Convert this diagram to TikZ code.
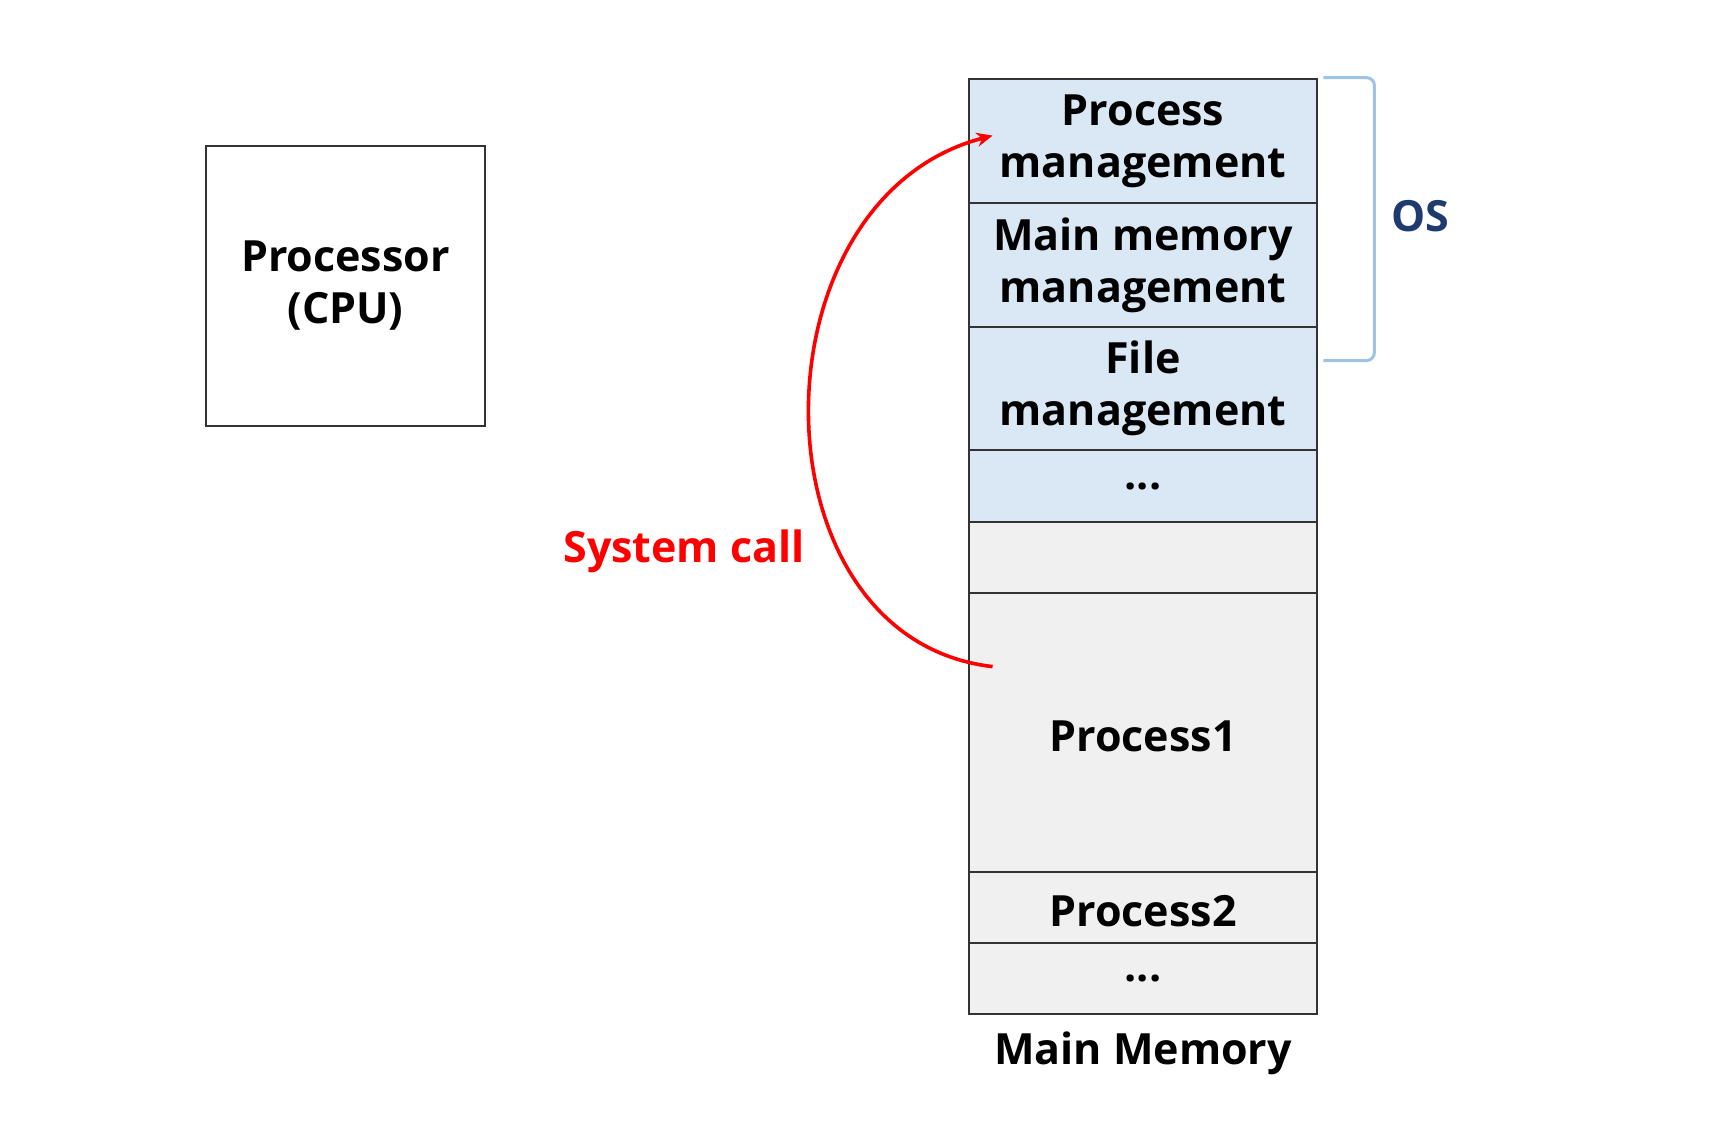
\documentclass[tikz,border=0pt]{standalone}
\usepackage{fontspec}
\setmainfont{Open Sans}[BoldFont={Open Sans Bold}]
\usetikzlibrary{arrows.meta}
\definecolor{osblue}{HTML}{DAE8F5}
\definecolor{usergray}{HTML}{F0F0F0}
\definecolor{boxline}{HTML}{333333}
\definecolor{bracecolor}{HTML}{9DC3E6}
\definecolor{osnavy}{HTML}{1F3A6E}

\begin{document}
\begin{tikzpicture}[x=0.5pt, y=-0.5pt,
		every node/.style={font=\fontsize{21.5}{26}\selectfont\bfseries},
		rowtext/.style={execute at begin node={\rule{0pt}{19.5pt}}},
		twolines/.style={execute at begin node={\rule{0pt}{24pt}}},
		dotstext/.style={},
		memrow/.style={draw=boxline, line width=1.4pt, minimum width=174pt, inner sep=0pt, align=center}]
		\useasboundingbox (0,0) rectangle (1718,1130);
		\node[draw=boxline, line width=1.4pt, minimum width=139.5pt, minimum height=140pt, align=center, twolines] (cpu) at (345.5,286) {Processor\\(CPU)};
		\foreach \top/\bot/\fillc/\name/\look/\txt in {%
			79/203/osblue/pm/twolines/{Process\\management},
			203/327/osblue/mm/twolines/{Main memory\\management},
			327/450/osblue/fm/twolines/{File\\management},
			450/522/osblue/osdots/dotstext/{...},
			522/593/usergray/free/dotstext/{},
			593/872/usergray/p1/rowtext/{Process1},
			872/943/usergray/p2/rowtext/{Process2},
			943/1014/usergray/udots/dotstext/{...}}%
		{
			\node[memrow, \look, fill=\fillc, minimum height={(\bot-\top)*0.5pt}] (\name) at (1143,{(\top+\bot)/2}) {\txt};
		};
		\node[rowtext] (mem) at (1143,1050) {Main Memory};
		\draw[bracecolor, line width=1.5pt, rounded corners=4pt] ([xshift=2.5pt]pm.north east) -| ([xshift=28pt,yshift=-17.5pt]fm.north east) -- ([xshift=2.5pt,yshift=-17.5pt]fm.north east);
		\node[text=osnavy] (os) at (1420,216) {OS};
		\coordinate (callfrom) at ([shift={(25,75)}]p1.north west);
		\coordinate (callto) at ([shift={(25,58)}]pm.north west);
		\draw[red, line width=1.8pt, -{Stealth[length=8pt,width=7pt]}] (callfrom) .. controls +(-244,-28) and +(-244,63) .. (callto);
		\node[text=red, rowtext] (syscall) at (684,548) {System call};
	\end{tikzpicture}
\end{document}
